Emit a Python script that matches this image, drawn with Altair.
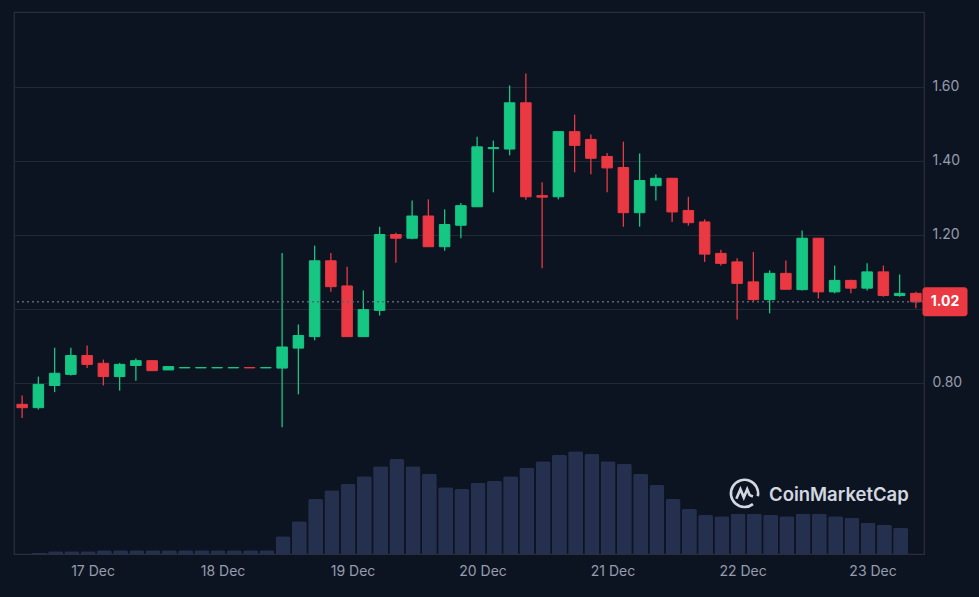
import altair as alt
import pandas as pd
import numpy as np

# ---------------- data (3-hour candles) ----------------
start_time = "2023-12-16 11:00"
n_candles = 56

opens = [0.741, 0.732, 0.792, 0.822, 0.873, 0.852, 0.816, 0.846, 0.859, 0.834,
         0.8395, 0.8395, 0.8395, 0.8395, 0.8405, 0.8395, 0.839, 0.893, 0.924, 1.129,
         1.061, 0.924, 0.995, 1.200, 1.190, 1.250, 1.167, 1.225, 1.275, 1.432,
         1.431, 1.556, 1.305, 1.302, 1.478, 1.457, 1.411, 1.381, 1.259, 1.332,
         1.352, 1.265, 1.234, 1.149, 1.126, 1.072, 1.024, 1.095, 1.051, 1.190,
         1.045, 1.076, 1.055, 1.099, 1.035, 1.041]
highs = [0.765, 0.816, 0.894, 0.894, 0.900, 0.862, 0.853, 0.865, 0.859, 0.843,
         0.8405, 0.8405, 0.8405, 0.8405, 0.8405, 0.8405, 1.150, 0.957, 1.170, 1.150,
         1.113, 1.049, 1.221, 1.205, 1.292, 1.295, 1.268, 1.285, 1.464, 1.454,
         1.603, 1.635, 1.341, 1.478, 1.524, 1.470, 1.420, 1.451, 1.419, 1.362,
         1.352, 1.302, 1.241, 1.159, 1.136, 1.153, 1.103, 1.130, 1.211, 1.190,
         1.116, 1.078, 1.122, 1.116, 1.092, 1.045]
lows = [0.704, 0.727, 0.774, 0.819, 0.839, 0.792, 0.778, 0.805, 0.832, 0.834,
        0.8395, 0.8395, 0.8395, 0.8395, 0.8395, 0.8395, 0.679, 0.768, 0.914, 1.045,
        0.924, 0.924, 0.981, 1.124, 1.187, 1.167, 1.156, 1.190, 1.275, 1.314,
        1.414, 1.294, 1.109, 1.295, 1.368, 1.363, 1.314, 1.221, 1.221, 1.292,
        1.234, 1.224, 1.126, 1.116, 0.970, 1.018, 0.987, 1.052, 1.049, 1.027,
        1.041, 1.041, 1.049, 1.032, 1.032, 1.001]
closes = [0.732, 0.795, 0.825, 0.873, 0.849, 0.816, 0.849, 0.859, 0.832, 0.843,
          0.8405, 0.8405, 0.8405, 0.8405, 0.8395, 0.8405, 0.896, 0.927, 1.129, 1.059,
          0.924, 0.997, 1.200, 1.190, 1.250, 1.167, 1.227, 1.278, 1.437, 1.435,
          1.556, 1.302, 1.301, 1.478, 1.441, 1.406, 1.380, 1.259, 1.346, 1.352,
          1.261, 1.232, 1.147, 1.122, 1.068, 1.024, 1.095, 1.052, 1.190, 1.045,
          1.076, 1.055, 1.099, 1.035, 1.041, 1.018]
volumes = [0.0, 0.13, 0.27, 0.27, 0.27, 0.37, 0.37, 0.37, 0.37, 0.37,
           0.37, 0.37, 0.37, 0.37, 0.37, 0.37, 1.77, 3.27, 5.50, 6.37,
           7.00, 7.77, 8.77, 9.50, 8.77, 8.03, 6.67, 6.50, 7.13, 7.30,
           7.77, 8.63, 9.27, 9.90, 10.27, 10.00, 9.27, 9.03, 8.03, 6.90,
           5.50, 4.50, 3.90, 3.77, 4.03, 4.03, 3.90, 3.77, 4.03, 4.03,
           3.77, 3.63, 3.13, 2.90, 2.63, 0.0]

times = pd.date_range(start_time, periods=n_candles, freq="3h").strftime("%Y-%m-%dT%H:%M:%SZ").tolist()

df = pd.DataFrame({"t": times, "open": opens, "high": highs, "low": lows,
                   "close": closes, "vol": volumes})
df["dir"] = np.where(df["close"] >= df["open"], "up", "down")

cur_df = pd.DataFrame({"price": [closes[-1]]})
wm_df = pd.DataFrame({"name": ["CoinMarketCap"]})

# ---------------- styles ----------------
BG = "#0d1421"
GREEN = "#16c784"
RED = "#ea3943"
VOL = "#252f4e"
LABEL = "#969cae"
GRID = "#232835"
FONT = "Inter"

x_scale = alt.Scale(
    type="utc",
    padding=0,
    domain=[alt.DateTime(year=2023, month=12, date=16, hours=9, minutes=30, utc=True),
            alt.DateTime(year=2023, month=12, date=23, hours=9, minutes=30, utc=True)],
)
x_axis = alt.Axis(format="%-d %b", tickCount={"interval": "day", "step": 1},
                  domain=False, ticks=False, grid=False, labelPadding=10,
                  labelFontSize=14, labelColor=LABEL, labelFont=FONT, title=None)
x_enc = alt.X("t:T", scale=x_scale, axis=x_axis)

price_scale = alt.Scale(domain=[0.3365, 1.8014], nice=False, zero=False)
price_axis = alt.Axis(orient="right", values=[0.8, 1.0, 1.2, 1.4, 1.6], grid=True,
                      gridColor=GRID, domain=False, ticks=False, labelPadding=8,
                      labelFontSize=14, labelColor=LABEL, labelFont=FONT, title=None,
                      labelExpr="datum.value == 1 ? '' : format(datum.value, '.2f')")
color_scale = alt.Scale(domain=["up", "down"], range=[GREEN, RED])

vol_layer = alt.Chart(df).mark_bar(
    width=15, color=VOL, cornerRadiusTopLeft=2, cornerRadiusTopRight=2, xOffset=1
).encode(
    x=x_enc,
    y=alt.Y("vol:Q", scale=alt.Scale(domain=[0, 54.2]), axis=None),
)

wicks = alt.Chart(df).mark_rule(strokeWidth=1.3).encode(
    x=x_enc,
    y=alt.Y("low:Q", scale=price_scale, axis=price_axis),
    y2="high:Q",
    color=alt.Color("dir:N", scale=color_scale, legend=None),
)

bodies = alt.Chart(df).mark_bar(width=10.5, strokeWidth=1).encode(
    x=x_enc,
    y=alt.Y("open:Q", scale=price_scale),
    y2="close:Q",
    color=alt.Color("dir:N", scale=color_scale, legend=None),
    stroke=alt.Stroke("dir:N", scale=color_scale, legend=None),
)

cur_rule = alt.Chart(cur_df).mark_rule(color="#5d6272", strokeDash=[2, 3], strokeWidth=1.5).encode(
    y=alt.Y("price:Q", scale=price_scale),
)

cur_box = alt.Chart(cur_df).mark_rect(color=RED, height=29, cornerRadius=3).encode(
    x=alt.value(908.5), x2=alt.value(953.5),
    y=alt.Y("price:Q", scale=price_scale),
)

cur_text = alt.Chart(cur_df).mark_text(
    color="white", fontSize=14, fontWeight="bold", font=FONT, align="center", baseline="middle"
).encode(
    x=alt.value(931),
    y=alt.Y("price:Q", scale=price_scale),
    text=alt.Text("price:Q", format=".2f"),
)

price_layer = alt.layer(wicks, bodies, cur_rule, cur_box, cur_text)

logo_path = ("M0.62,0.78 A1,1 0 1,1 0.98,0.2 "
             "M-0.6,0.38 L-0.3,-0.32 L-0.05,0.3 L0.2,-0.32 L0.38,0.12 L0.62,0.22")
logo = alt.Chart(wm_df).mark_point(
    shape=logo_path, size=740, filled=False, strokeWidth=2.6, color="#d3d7e0", opacity=1
).encode(x=alt.value(730.5), y=alt.value(481.5))

wm_text = alt.Chart(wm_df).mark_text(
    align="left", baseline="middle", fontSize=18.5, fontWeight=600, font=FONT, color="#d3d7e0"
).encode(x=alt.value(755), y=alt.value(483), text="name:N")

chart = alt.layer(vol_layer, price_layer, logo, wm_text).resolve_scale(
    y="independent"
).properties(
    width=910, height=542,
    padding={"left": 14, "top": 12, "right": 55, "bottom": 43},
    autosize=alt.AutoSizeParams(type="none"),
).configure(
    background=BG,
).configure_view(
    stroke="#2b2f3b", strokeWidth=1.2,
)

chart.save("out.html", embed_options={"renderer": "svg", "actions": False})
